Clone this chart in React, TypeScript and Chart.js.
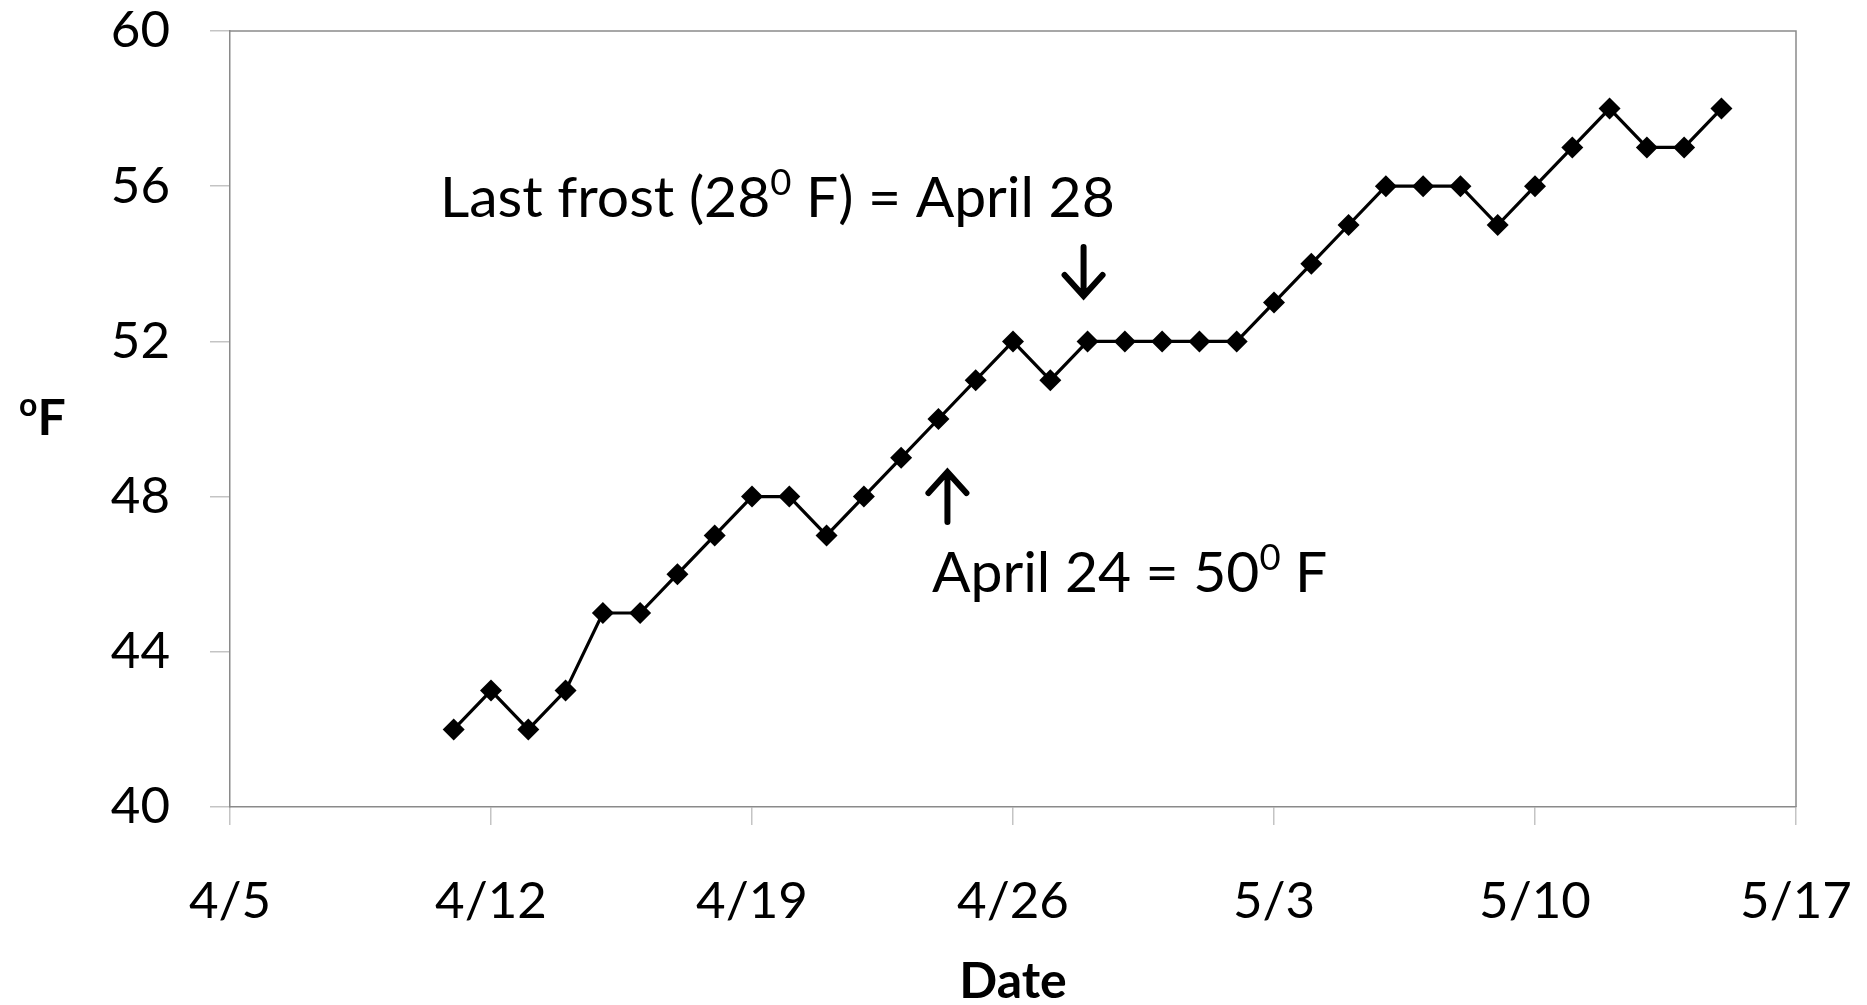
import React, { useEffect, useRef } from "react";
import { Chart, registerables } from "chart.js";

Chart.register(...registerables);

const dates = [
  "4/11", "4/12", "4/13", "4/14", "4/15", "4/16", "4/17", "4/18", "4/19", "4/20",
  "4/21", "4/22", "4/23", "4/24", "4/25", "4/26", "4/27", "4/28", "4/29", "4/30",
  "5/1", "5/2", "5/3", "5/4", "5/5", "5/6", "5/7", "5/8", "5/9", "5/10",
  "5/11", "5/12", "5/13", "5/14", "5/15",
];
const temps = [
  42, 43, 42, 43, 45, 45, 46, 47, 48, 48,
  47, 48, 49, 50, 51, 52, 51, 52, 52, 52,
  52, 52, 53, 54, 55, 56, 56, 56, 55, 56,
  57, 58, 57, 57, 58,
];
const xTickLabels = ["4/5", "4/12", "4/19", "4/26", "5/3", "5/10", "5/17"];
const yTicks = [40, 44, 48, 52, 56, 60];

const FONT = "Lato, 'Open Sans', sans-serif";

// days since 4/5
function dayIndex(s: string): number {
  const [m, d] = s.split("/").map(Number);
  const base = 5;
  return m === 4 ? d - base : 30 - base + d;
}

type Part = [string, boolean];
function drawParts(ctx: CanvasRenderingContext2D, parts: Part[], x: number, y: number, size: number, bold = false) {
  let cx = x;
  for (const [t, sup] of parts) {
    const s = sup ? size * 0.64 : size;
    ctx.font = `${bold ? "bold " : ""}${s}px ${FONT}`;
    ctx.fillText(t, cx, sup ? y - size * 0.38 : y);
    cx += ctx.measureText(t).width;
  }
}

function drawArrow(ctx: CanvasRenderingContext2D, x: number, y1: number, y2: number) {
  const dir = y2 > y1 ? 1 : -1;
  ctx.save();
  ctx.strokeStyle = "#000";
  ctx.lineWidth = 6;
  ctx.lineCap = "round";
  ctx.lineJoin = "miter";
  ctx.beginPath();
  ctx.moveTo(x, y1);
  ctx.lineTo(x, y2 - dir * 2);
  ctx.moveTo(x - 19, y2 - dir * 21);
  ctx.lineTo(x, y2);
  ctx.lineTo(x + 19, y2 - dir * 21);
  ctx.stroke();
  ctx.restore();
}

const overlay = {
  id: "overlay",
  afterDraw(chart: any) {
    const ctx: CanvasRenderingContext2D = chart.ctx;
    const a = chart.chartArea;
    const xs = chart.scales.x;
    ctx.save();
    ctx.strokeStyle = "#8a8a8a";
    ctx.lineWidth = 1.5;
    ctx.beginPath();
    ctx.moveTo(a.left, a.top);
    ctx.lineTo(a.right, a.top);
    ctx.lineTo(a.right, a.bottom);
    ctx.stroke();

    ctx.fillStyle = "#000";
    ctx.textBaseline = "alphabetic";
    ctx.textAlign = "left";
    drawParts(ctx, [["o", true], ["F", false]], 19, 435, 50, true);
    ctx.font = `bold 50px ${FONT}`;
    ctx.textAlign = "center";
    ctx.fillText("Date", (a.left + a.right) / 2, 998);
    ctx.textAlign = "left";

    drawParts(ctx, [["Last frost (28", false], ["0", true], [" F) = April 28", false]], 440, 217, 57);
    drawParts(ctx, [["April 24 = 50", false], ["0", true], [" F", false]], 932, 592, 57);

    const xFrost = xs.getPixelForValue(dayIndex("4/28"));
    const x50 = xs.getPixelForValue(dayIndex("4/24"));
    drawArrow(ctx, xFrost - 4, 247, 296);
    drawArrow(ctx, x50 + 9, 522, 472);
    ctx.restore();
  },
};

export default function App() {
  const ref = useRef<HTMLCanvasElement>(null);
  useEffect(() => {
    if (!ref.current) return;
    const chart = new Chart(ref.current, {
      type: "line",
      data: {
        datasets: [
          {
            data: dates.map((d, i) => ({ x: dayIndex(d), y: temps[i] })),
            borderColor: "#000",
            borderWidth: 3.2,
            backgroundColor: "#000",
            pointStyle: "rectRot",
            pointRadius: 11,
            pointBorderWidth: 0,
            pointBackgroundColor: "#000",
            tension: 0,
          },
        ],
      },
      options: {
        responsive: false,
        animation: false,
        layout: { padding: { top: 31, right: 71, left: 0, bottom: 0 } },
        plugins: { legend: { display: false }, tooltip: { enabled: false } },
        scales: {
          x: {
            type: "linear",
            min: 0,
            max: 42,
            afterBuildTicks: (s: any) => {
              s.ticks = xTickLabels.map((_, i) => ({ value: i * 7 }));
            },
            ticks: {
              callback: (_v: any, i: number) => xTickLabels[i],
              color: "#000",
              font: { family: FONT, size: 51 },
              padding: 46,
              maxRotation: 0,
              autoSkip: false,
            },
            grid: { drawOnChartArea: false, color: "#c4c4c4", tickLength: 18, lineWidth: 1.5 },
            border: { color: "#8a8a8a", width: 1.5 },
            afterFit: (s: any) => {
              s.height = 198;
              s.paddingLeft = 0;
              s.paddingRight = 0;
              s.paddingTop = 0;
              s.paddingBottom = 0;
            },
          },
          y: {
            min: 40,
            max: 60,
            afterBuildTicks: (s: any) => {
              s.ticks = yTicks.map((v) => ({ value: v }));
            },
            ticks: {
              color: "#000",
              font: { family: FONT, size: 51 },
              padding: 40,
            },
            grid: { drawOnChartArea: false, color: "#c4c4c4", tickLength: 20, lineWidth: 1.5 },
            border: { color: "#8a8a8a", width: 1.5 },
            afterFit: (s: any) => {
              s.width = 230;
              s.paddingLeft = 0;
              s.paddingRight = 0;
              s.paddingTop = 0;
              s.paddingBottom = 0;
            },
          },
        },
      },
      plugins: [overlay],
    });
    return () => chart.destroy();
  }, []);
  return (
    <div style={{ position: "absolute", left: 0, top: 0, width: 1867, height: 1005, background: "#fff" }}>
      <canvas ref={ref} width={1867} height={1005} />
    </div>
  );
}
